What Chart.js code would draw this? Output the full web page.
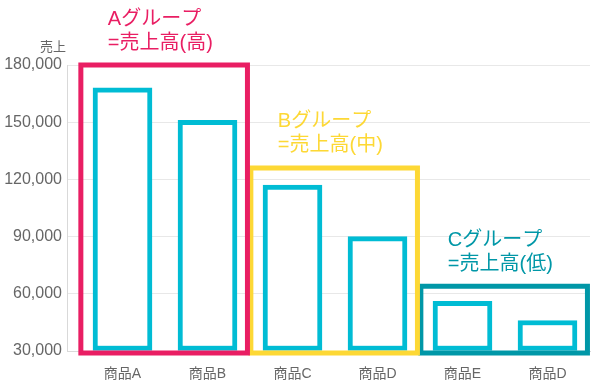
<!DOCTYPE html>
<html><head><meta charset="utf-8">
<script src="https://cdn.jsdelivr.net/npm/chart.js@4/dist/chart.umd.min.js"></script>
<style>html,body{margin:0;padding:0;background:#fff}#wrap{width:591px;height:387px;position:relative}</style>
</head><body><div id="wrap"><canvas id="c"></canvas></div>
<script>
const categories = ['商品A', '商品B', '商品C', '商品D', '商品E', '商品D'];
const sales = [168000, 151000, 117000, 90000, 56000, 46000];
const yTicks = [30000, 60000, 90000, 120000, 150000, 180000];
const yTitle = '売上';
const groupNames = ['Aグループ', 'Bグループ', 'Cグループ'];
const groupSubtitles = ['=売上高(高)', '=売上高(中)', '=売上高(低)'];
const groupFirst = [0, 2, 4];
const groupLast = [1, 3, 5];
const groupTop = [180000, 126000, 64000];
const groupBottom = 29000;
const groupColors = ['#E91E63', '#FDD835', '#0097A7'];
const barColor = '#00BCD4';

const FONT = "'Helvetica Neue', 'Liberation Sans', Arial, 'Noto Sans CJK JP', sans-serif";
Chart.defaults.font.family = FONT;

const boxDatasets = groupFirst.map((f, i) => {
  const l = groupLast[i];
  const x0 = f - 0.49, x1 = l + 0.47;
  return {
    type: 'line',
    data: [
      {x: x0, y: groupBottom}, {x: x0, y: groupTop[i]},
      {x: x1, y: groupTop[i]}, {x: x1, y: groupBottom},
      {x: x0, y: groupBottom}
    ],
    borderColor: groupColors[i],
    borderWidth: 5,
    borderJoinStyle: 'miter',
    borderCapStyle: 'square',
    pointRadius: 0,
    tension: 0,
    fill: false,
    clip: false
  };
});

const barDataset = {
  type: 'bar',
  data: sales.map((v, i) => ({x: i, y: v})),
  backgroundColor: '#ffffff',
  borderColor: barColor,
  borderWidth: 5,
  borderSkipped: false,
  barThickness: 59,
  base: yTicks[0]
};

const textPlugin = {
  id: 'groupText',
  afterDatasetsDraw(chart) {
    const ctx = chart.ctx, xs = chart.scales.x, ys = chart.scales.y;
    ctx.save();
    ctx.font = '13px ' + FONT;
    ctx.fillStyle = '#666';
    ctx.textAlign = 'right';
    ctx.textBaseline = 'middle';
    ctx.fillText(yTitle, chart.chartArea.left - 1, chart.chartArea.top - 18);
    ctx.font = '20px ' + FONT;
    ctx.textAlign = 'left';
    groupFirst.forEach((f, i) => {
      const x = xs.getPixelForValue(f - 0.49) + 27;
      const yTop = ys.getPixelForValue(groupTop[i]);
      ctx.fillStyle = groupColors[i];
      ctx.fillText(groupNames[i], x, yTop - 46);
      ctx.fillText(groupSubtitles[i], x, yTop - 22);
    });
    ctx.restore();
  }
};

new Chart(document.getElementById('c'), {
  type: 'bar',
  data: { datasets: [...boxDatasets, barDataset] },
  options: {
    responsive: true,
    maintainAspectRatio: false,
    animation: false,
    layout: { padding: { top: 65, right: 1, left: 0, bottom: 0 } },
    plugins: { legend: { display: false }, tooltip: { enabled: false } },
    scales: {
      x: {
        type: 'linear',
        offset: false,
        min: -0.653,
        max: 5.5,
        grid: { display: false, offset: false },
        border: { display: true, color: '#d9d9d9' },
        afterBuildTicks: (s) => { s.ticks = categories.map((_, i) => ({value: i})); },
        afterFit: (s) => { s.height = 36; },
        ticks: {
          autoSkip: false,
          maxRotation: 0,
          padding: 7,
          color: '#666',
          font: { size: 14 },
          callback: (v) => categories[v]
        }
      },
      y: {
        min: yTicks[0],
        max: yTicks[yTicks.length - 1],
        afterBuildTicks: (s) => { s.ticks = yTicks.map(v => ({value: v})); },
        afterFit: (s) => { s.width = 67; },
        grid: { color: '#e8e8e8', drawTicks: false },
        border: { display: true, color: '#d9d9d9' },
        ticks: {
          padding: 5,
          color: '#666',
          font: { size: 16 },
          callback: (v) => v.toLocaleString('en-US')
        }
      }
    }
  },
  plugins: [textPlugin]
});
</script>
</body></html>
